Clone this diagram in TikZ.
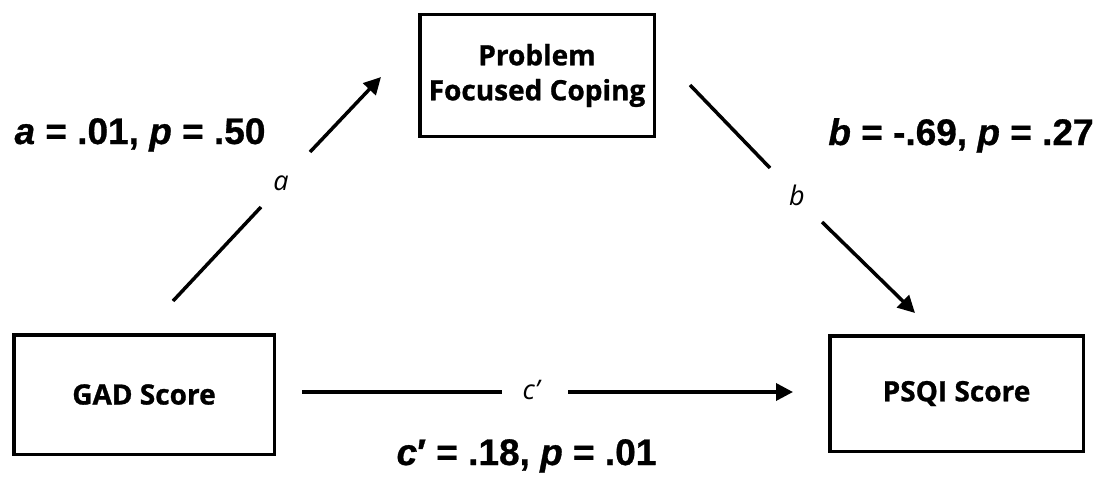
\documentclass[tikz,border=0pt]{standalone}
\usepackage{fontspec}
\setmainfont{Open Sans}[BoldFeatures={FakeBold=1}]
\newfontfamily\statfont{Liberation Sans}[BoldFeatures={FakeBold=0.8},BoldItalicFeatures={FakeBold=0.8}]
\usetikzlibrary{arrows.meta}
\begin{document}
\begin{tikzpicture}[x=1pt,y=-1pt,
  box/.style={draw, line width=3.5pt, rectangle, align=center, inner sep=0pt,
    font=\fontsize{28}{35}\selectfont\bfseries},
  conn/.style={line width=3.5pt},
  arr/.style={conn, -{Triangle[length=17pt,width=17pt]}},
  stat/.style={font=\fontsize{37}{40}\statfont\bfseries, inner sep=0pt, anchor=base},
  plabel/.style={font=\fontsize{27}{30}\selectfont\itshape, inner sep=0pt}]
\useasboundingbox (0,0) rectangle (1107,476);

% boxes
\node[box, minimum width=260.5pt, minimum height=119.5pt] (gad) at (144,394.5) {GAD Score};
\node[box, minimum width=253.5pt, minimum height=115.5pt] (psqi) at (956.5,393.5) {PSQI Score};
\node[box, minimum width=234.5pt, minimum height=121.5pt] (pfc) at (537,75.5) {Problem\\Focused Coping};

% path a
\coordinate (aS) at (173,301);
\coordinate (aG1) at (261,207);
\coordinate (aG2) at (310,152);
\coordinate (aE) at (381,77);
\draw[conn] (aS) -- (aG1);
\draw[arr] (aG2) -- (aE);
\node[plabel] (alab) at (281,183) {a};

% path b
\coordinate (bS) at (690,85);
\coordinate (bG1) at (770,168);
\coordinate (bG2) at (822,222);
\coordinate (bE) at (915,313);
\draw[conn] (bS) -- (bG1);
\draw[arr] (bG2) -- (bE);
\node[plabel] (blab) at (797,195) {b};

% path c'
\coordinate (cS) at (302,392);
\coordinate (cG1) at (502,392);
\coordinate (cG2) at (568,392);
\coordinate (cE) at (793,392);
\draw[conn] (cS) -- (cG1);
\draw[arr] (cG2) -- (cE);
\node[plabel] (clab) at (531,390) {c’};

% statistics
\node[stat] (astat) at (140,144) {\textit{a} = .01, \textit{p} = .50};
\node[stat] (bstat) at (961,145) {\textit{b} = -.69, \textit{p} = .27};
\node[stat] (cstat) at (526.5,465) {\textit{c}′ = .18, \textit{p} = .01};
\end{tikzpicture}
\end{document}
